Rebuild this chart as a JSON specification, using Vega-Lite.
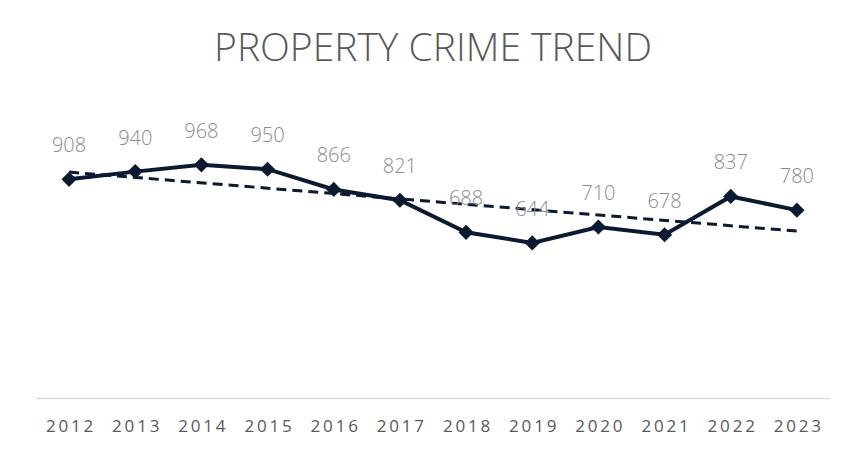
{
  "$schema": "https://vega.github.io/schema/vega-lite/v6.json",
  "autosize": "none",
  "width": 794,
  "height": 289,
  "padding": {"left": 36, "top": 109, "right": 34, "bottom": 62},
  "background": "white",
  "title": {
    "text": "PROPERTY CRIME TREND",
    "font": "Open Sans",
    "fontSize": 39,
    "fontWeight": 300,
    "color": "#595959",
    "anchor": "middle",
    "baseline": "alphabetic",
    "offset": 9
  },
  "config": {"view": {"stroke": null}},
  "datasets": {
    "crime": [
      {"year": "2012", "value": 908},
      {"year": "2013", "value": 940},
      {"year": "2014", "value": 968},
      {"year": "2015", "value": 950},
      {"year": "2016", "value": 866},
      {"year": "2017", "value": 821},
      {"year": "2018", "value": 688},
      {"year": "2019", "value": 644},
      {"year": "2020", "value": 710},
      {"year": "2021", "value": 678},
      {"year": "2022", "value": 837},
      {"year": "2023", "value": 780}
    ],
    "trend": [
      {"year": "2012", "trend": 938},
      {"year": "2023", "trend": 693}
    ]
  },
  "encoding": {
    "x": {
      "field": "year",
      "type": "ordinal",
      "scale": {"type": "point", "padding": 0.5},
      "axis": {
        "title": null,
        "labelAngle": 0,
        "ticks": false,
        "domainColor": "#d9d9d9",
        "domainWidth": 1.5,
        "labelFont": "Open Sans",
        "labelFontSize": 17,
        "labelColor": "#595959",
        "labelBaseline": "middle",
        "labelPadding": 28,
        "labelExpr": "join(split(datum.label, ''), '\u2009')"
      }
    }
  },
  "layer": [
    {
      "data": {"name": "crime"},
      "mark": {"type": "line", "color": "#0b1a30", "strokeWidth": 4},
      "encoding": {
        "y": {"field": "value", "type": "quantitative", "scale": {"domain": [0, 1200]}, "axis": null}
      }
    },
    {
      "data": {"name": "trend"},
      "mark": {"type": "line", "color": "#0b1a30", "strokeWidth": 3, "strokeDash": [10, 6]},
      "encoding": {
        "y": {"field": "trend", "type": "quantitative", "scale": {"domain": [0, 1200]}, "axis": null}
      }
    },
    {
      "data": {"name": "crime"},
      "mark": {"type": "point", "shape": "diamond", "filled": true, "size": 230, "color": "#0b1a30", "opacity": 1},
      "encoding": {
        "y": {"field": "value", "type": "quantitative", "scale": {"domain": [0, 1200]}, "axis": null}
      }
    },
    {
      "data": {"name": "crime"},
      "mark": {"type": "text", "font": "Open Sans", "fontSize": 20, "fontWeight": 300, "color": "#8c8c8c", "dy": -33, "baseline": "middle"},
      "encoding": {
        "y": {"field": "value", "type": "quantitative", "scale": {"domain": [0, 1200]}, "axis": null},
        "text": {"field": "value", "type": "quantitative"}
      }
    }
  ]
}
